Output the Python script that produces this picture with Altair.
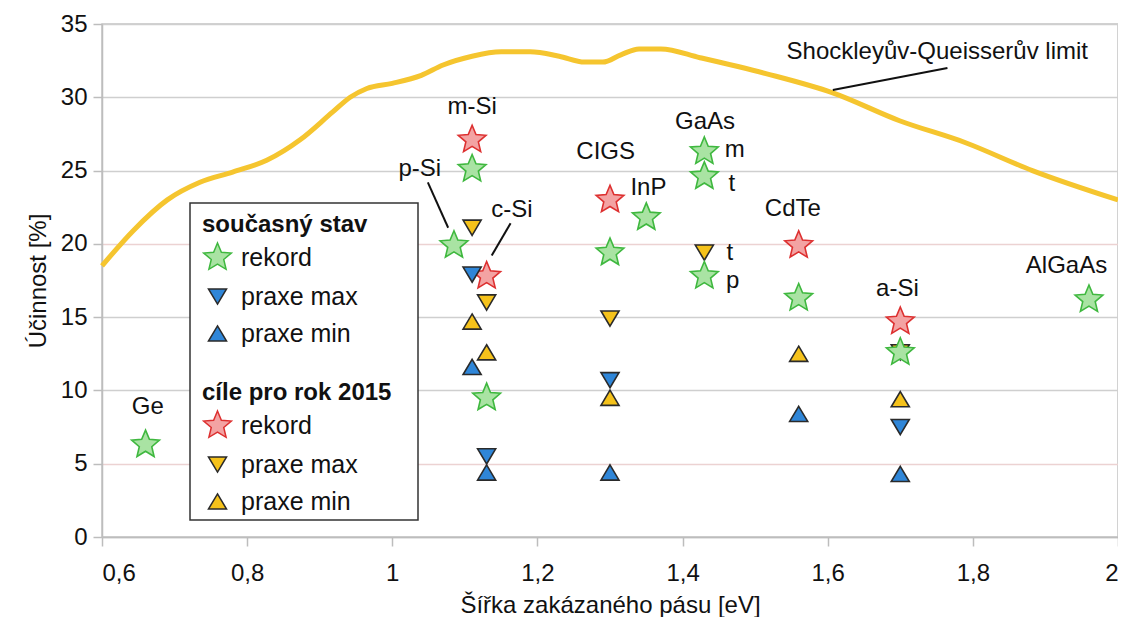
import math
import altair as alt
import pandas as pd

FONT = "Liberation Sans, Arial, DejaVu Sans"

# Shockley-Queisser limit curve
sq_x = [0.60, 0.643, 0.69, 0.735, 0.78, 0.827, 0.873, 0.918, 0.942, 0.965, 1.0, 1.04, 1.07, 1.11,
        1.15, 1.19, 1.23, 1.265, 1.29, 1.315, 1.34, 1.37, 1.424, 1.516, 1.607, 1.699, 1.79, 1.882, 2.0]
sq_y = [18.5, 20.9, 23.0, 24.2, 24.9, 25.7, 27.1, 29.0, 30.0, 30.6, 30.95, 31.5, 32.2, 32.8,
        33.1, 33.1, 32.8, 32.4, 32.4, 32.9, 33.3, 33.3, 32.7, 31.6, 30.3, 28.4, 26.9, 25.0, 23.0]

# současný stav (current state)
cur_rek_x = [0.66, 1.11, 1.085, 1.13, 1.30, 1.35, 1.43, 1.43, 1.43, 1.56, 1.70, 1.96]
cur_rek_y = [6.3, 25.1, 19.9, 9.5, 19.4, 21.8, 26.3, 24.6, 17.8, 16.3, 12.6, 16.2]
cur_max_x = [1.11, 1.13, 1.30, 1.70]
cur_max_y = [17.9, 5.5, 10.7, 7.5]
cur_min_x = [1.11, 1.13, 1.30, 1.56, 1.70]
cur_min_y = [11.6, 4.4, 4.4, 8.4, 4.3]

# cíle pro rok 2015 (targets)
tgt_rek_x = [1.11, 1.13, 1.30, 1.56, 1.70]
tgt_rek_y = [27.1, 17.8, 23.0, 19.9, 14.7]
tgt_max_x = [1.11, 1.13, 1.30, 1.43, 1.70]
tgt_max_y = [21.1, 16.0, 14.9, 19.4, 12.6]
tgt_min_x = [1.11, 1.13, 1.30, 1.56, 1.70]
tgt_min_y = [14.7, 12.6, 9.5, 12.5, 9.4]

# labels
lab_text = ["Ge", "m-Si", "p-Si", "c-Si", "CIGS", "InP", "GaAs", "m", "t", "t", "p",
            "CdTe", "a-Si", "AlGaAs", "Shockleyův-Queisserův limit"]
lab_x = [0.663, 1.110, 1.038, 1.165, 1.294, 1.353, 1.431, 1.472, 1.468, 1.465, 1.469,
         1.552, 1.696, 1.929, 1.751]
lab_y = [8.87, 29.33, 25.1, 22.3, 26.3, 23.8, 28.3, 26.4, 24.1, 19.4, 17.5,
         22.4, 16.9, 18.5, 33.1]

# leader lines
lead_x = [1.049, 1.163, 1.607]
lead_y = [24.2, 21.4, 30.5]
lead_x2 = [1.077, 1.137, 1.765]
lead_y2 = [21.1, 19.2, 32.0]

x_ticks = [0.6, 0.8, 1.0, 1.2, 1.4, 1.6, 1.8, 2.0]
y_ticks = [0, 5, 10, 15, 20, 25, 30, 35]

# symbol paths (all drawn at the same symbol size; triangles are defined smaller)
pts = []
for i in range(10):
    a = -math.pi / 2 + i * math.pi / 5
    r = 1.0 if i % 2 == 0 else 0.45
    pts.append(f"{r*math.cos(a):.3f},{r*math.sin(a):.3f}")
STAR = "M" + "L".join(pts) + "Z"
TRI_UP = "M0,-0.52L0.62,0.52L-0.62,0.52Z"
TRI_DOWN = "M0,0.52L0.62,-0.52L-0.62,-0.52Z"
SYM_SIZE = 850

xscale = alt.Scale(domain=[0.6, 2.0], nice=False, zero=False)
yscale = alt.Scale(domain=[0, 35], nice=False)

xaxis = alt.Axis(values=x_ticks, grid=False, title="Šířka zakázaného pásu [eV]",
                 labelExpr="replace(format(datum.value, '.1~f'), '.', ',')",
                 tickSize=9, labelPadding=15, titlePadding=8)
yaxis = alt.Axis(values=y_ticks, grid=True, title="Účinnost [%]",
                 gridColor={"condition": {"test": "datum.value === 20 || datum.value === 5",
                                          "value": "#ecd2d2"}, "value": "#cfcfcf"},
                 tickSize=9, labelPadding=6, titlePadding=10)

X = alt.X("x:Q", scale=xscale, axis=xaxis)
Y = alt.Y("y:Q", scale=yscale, axis=yaxis)

def series_df(prefix, xs_list, ys_list, names):
    rows = []
    for name, xs, ys in zip(names, xs_list, ys_list):
        for xv, yv in zip(xs, ys):
            rows.append({"x": xv, "y": yv, "typ": prefix + name})
    return pd.DataFrame(rows)

names = ["rekord", "praxe max", "praxe min"]
# order rows so triangles draw first, stars on top
cur_df = series_df("a_", [cur_max_x, cur_min_x, cur_rek_x], [cur_max_y, cur_min_y, cur_rek_y],
                   ["praxe max", "praxe min", "rekord"])
tgt_df = series_df("b_", [tgt_max_x, tgt_min_x, tgt_rek_x], [tgt_max_y, tgt_min_y, tgt_rek_y],
                   ["praxe max", "praxe min", "rekord"])

def legend(title, ly):
    return alt.Legend(title=title, orient="none", legendX=100, legendY=ly,
                      titleFontSize=24, titleFontWeight="bold", titleFont=FONT, titleColor="#111",
                      titleLimit=400, labelLimit=400,
                      labelFontSize=25, labelFont=FONT, labelColor="#111",
                      labelExpr="substring(datum.label, 2)", titlePadding=5,
                      rowPadding=8, symbolStrokeWidth=1.5, symbolSize=SYM_SIZE,
                      labelOffset=8, padding=0)

def point_layer(df, prefix, colors, strokes, title, ly):
    dom = [prefix + n for n in names]
    leg = legend(title, ly)
    return alt.Chart(df).mark_point(filled=True, opacity=1, strokeWidth=1.6, size=SYM_SIZE).encode(
        x=X, y=Y,
        color=alt.Color("typ:N", scale=alt.Scale(domain=dom, range=colors), legend=leg),
        stroke=alt.Stroke("typ:N", scale=alt.Scale(domain=dom, range=strokes), legend=leg),
        shape=alt.Shape("typ:N", scale=alt.Scale(domain=dom, range=[STAR, TRI_DOWN, TRI_UP]), legend=leg),
    )

cur_layer = point_layer(cur_df, "a_", ["#a9e3a3", "#2f86d8", "#2f86d8"],
                        ["#3fb83f", "#2a2a2a", "#2a2a2a"], "současný stav", 189)
tgt_layer = point_layer(tgt_df, "b_", ["#f3a3a3", "#f5c21b", "#f5c21b"],
                        ["#dd3030", "#2a2a2a", "#2a2a2a"], "cíle pro rok 2015", 357)

frame = alt.Chart(pd.DataFrame({"k": [0]})).mark_rect(fill="white", stroke="#333", strokeWidth=1.5).encode(
    x=alt.value(88), x2=alt.value(316), y=alt.value(179), y2=alt.value(496))

sq = alt.Chart(pd.DataFrame({"x": sq_x, "y": sq_y})).mark_line(
    color="#f5c52f", strokeWidth=5, interpolate="monotone").encode(x=X, y=Y)

labels = alt.Chart(pd.DataFrame({"x": lab_x, "y": lab_y, "t": lab_text})).mark_text(
    font=FONT, fontSize=24, color="#111", align="center", baseline="middle").encode(
    x=X, y=Y, text="t:N")

leaders = alt.Chart(pd.DataFrame({"x": lead_x, "y": lead_y, "x2": lead_x2, "y2": lead_y2})).mark_rule(
    color="#111", strokeWidth=2).encode(x=X, y=Y, x2="x2:Q", y2="y2:Q")

chart = alt.layer(sq, frame, leaders, labels, tgt_layer, cur_layer).resolve_scale(
    color="independent", stroke="independent", shape="independent"
).resolve_legend(
    color="independent", stroke="independent", shape="independent"
).properties(
    width=1016, height=513,
    autosize=alt.AutoSizeParams(type="none"),
    padding={"left": 94, "top": 16, "right": 0, "bottom": 80},
).configure_view(stroke="#c4c4c4", strokeWidth=1.5).configure_axis(
    labelFont=FONT, labelFontSize=24, labelColor="#111",
    titleFont=FONT, titleFontSize=24, titleColor="#111", titleFontWeight="normal",
    domainColor="#bdbdbd", domainWidth=1.5, tickColor="#bdbdbd", tickWidth=1.5, gridWidth=1.5,
)

chart.save("out.html", embed_options={"renderer": "svg", "actions": False})
